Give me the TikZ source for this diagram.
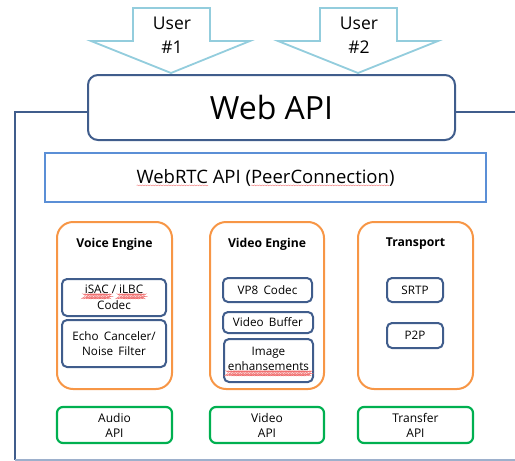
\documentclass[tikz,border=0pt]{standalone}
\usepackage{fontspec}
\setmainfont{Open Sans}
\usetikzlibrary{decorations.pathmorphing}
\definecolor{dkblue}{HTML}{405D8C}
\definecolor{rtcblue}{HTML}{5B8FD6}
\definecolor{orng}{HTML}{F79646}
\definecolor{grn}{HTML}{00B050}
\definecolor{arrblue}{HTML}{93CDDD}
\definecolor{bottomline}{HTML}{9DB0CC}
\definecolor{squig}{HTML}{F07070}
\newlength\sqw
\newcommand\sq[1]{\settowidth\sqw{#1}\rlap{\tikz[baseline=0pt,x=1pt,y=1pt]{\draw[draw=squig, line width=0.35pt, decorate, decoration={zigzag, amplitude=0.45pt, segment length=2.6pt}] (0,-2.3) -- (\the\sqw,-2.3);}}#1}
\newcommand\ws{\hspace{0.45em}}
\tikzset{
  webbox/.style={draw=dkblue, line width=2pt, rounded corners=10pt, fill=white, inner sep=0pt},
  rtcbox/.style={draw=rtcblue, line width=2pt, fill=white, inner sep=0pt},
  engine/.style={draw=orng, line width=2pt, rounded corners=16pt, minimum height=167pt, inner sep=0pt},
  inner/.style={draw=dkblue, line width=2pt, rounded corners=5pt, inner sep=0pt, align=center, font=\fontsize{11.7}{15.5}\selectfont},
  apibox/.style={draw=grn, line width=2.2pt, rounded corners=6pt, minimum height=36pt, inner sep=0pt, align=center, font=\fontsize{12}{15}\selectfont},
  title/.style={font=\fontsize{12.2}{14}\selectfont\bfseries, inner sep=0pt},
  userarrow/.style={draw=arrblue, line width=1.8pt, fill=white, line join=miter},
  usertext/.style={align=center, inner sep=0pt, font=\fontsize{17.5}{24}\selectfont},
  frame/.style={draw=dkblue, line width=2pt}
}
\begin{document}
\begin{tikzpicture}[x=1pt,y=-1pt]
\useasboundingbox (0,0) rectangle (515,461);
% frame
\coordinate (ftl) at (15,112);
\coordinate (fbl) at (15,460);
\coordinate (fbr) at (515,460);
\coordinate (ftr) at (515,112);
% user arrows
\draw[userarrow] (133,8) -- (210,8) -- (210,41) -- (250,41) -- (171,73) -- (91,41) -- (133,41) -- cycle;
\node[usertext] (u1) at (172,35) {User\\\#1};
\draw[userarrow] (320,8) -- (397,8) -- (397,41) -- (438,41) -- (358,73) -- (278,41) -- (320,41) -- cycle;
\node[usertext] (u2) at (359,35) {User\\\#2};
% web api
\node[webbox, minimum width=367pt, minimum height=65pt, font=\fontsize{32}{36}\selectfont] (web) at (271.5,107.5) {Web API};
\draw[frame] (web.west |- ftl) -- (ftl) -- (fbl);
\draw[frame] (web.east |- ftr) -- (ftr);
\draw[draw=bottomline, line width=2pt] (fbl) -- (fbr);
% webrtc
\node[rtcbox, minimum width=441pt, minimum height=49pt, font=\fontsize{18.5}{20}\selectfont] (rtc) at (265.5,177.5) {\sq{WebRTC} API (\sq{PeerConnection})};
% engines
\node[engine, minimum width=115pt] (voice) at (114.5,305.5) {};
\node[engine, minimum width=114pt] (video) at (267,305.5) {};
\node[engine, minimum width=115pt] (trans) at (415.5,305.5) {};
\node[title] (tvoice) at (114.5,244) {Voice Engine};
\node[title] (tvideo) at (267,244) {Video Engine};
\node[title] (ttrans) at (415.5,244) {Transport};
% voice inner
\node[inner, minimum width=104pt, minimum height=37pt] (isac) at (114,297.5) {\sq{iSAC} / \sq{iLBC}\\Codec};
\node[inner, minimum width=104pt, minimum height=47pt] (echo) at (114,343.5) {Echo\ws Canceler/\\Noise\ws Filter};
% video inner
\node[inner, minimum width=89pt, minimum height=24pt] (vp8) at (267.5,290) {VP8\ws Codec};
\node[inner, minimum width=90pt, minimum height=21pt] (vbuf) at (268,322.5) {Video\ws Buffer};
\node[inner, minimum width=89pt, minimum height=43pt] (img) at (268.5,360.5) {Image\\\sq{enhansements}};
% transport inner
\node[inner, minimum width=56pt, minimum height=24pt] (srtp) at (415,290) {SRTP};
\node[inner, minimum width=56pt, minimum height=25pt] (p2p) at (415,335.5) {P2P};
% api boxes
\node[apibox, minimum width=115pt] (aapi) at (114.5,425) {Audio\\API};
\node[apibox, minimum width=114pt] (vapi) at (267,425) {Video\\API};
\node[apibox, minimum width=115pt] (tapi) at (415.5,425) {Transfer\\API};
\end{tikzpicture}
\end{document}
